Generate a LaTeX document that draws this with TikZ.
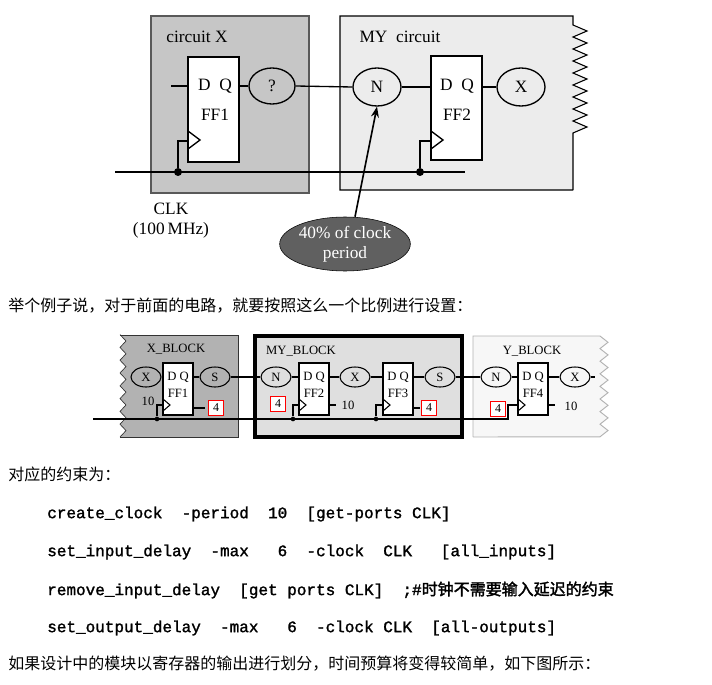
\documentclass[tikz,border=0pt]{standalone}
\usepackage{fontspec}
\setmainfont{Liberation Serif}
\newfontfamily\cjk{Noto Sans CJK SC}
\newfontfamily\cjkb[FakeBold=2]{Noto Sans CJK SC}
\newfontfamily\mono[FakeBold=1.5]{Liberation Mono}
\usetikzlibrary{shapes.geometric,arrows.meta}
\begin{document}
\begin{tikzpicture}[x=0.75pt,y=-0.75pt,
  ff/.style={draw,line width=1pt,fill=white},
  bub/.style={draw,ellipse,line width=1pt,inner sep=0pt},
  wire/.style={line width=1pt},
  dot/.style={circle,fill=black,inner sep=0pt,minimum size=6pt},
  sdot/.style={circle,fill=black,inner sep=0pt,minimum size=3.5pt},
  red4/.style={draw=red,line width=1pt,fill=white,minimum size=11pt,inner sep=1pt,font=\fontsize{9}{10}\selectfont},
  lab/.style={font=\fontsize{13}{15}\selectfont},
  slab/.style={font=\fontsize{9.5}{11}\selectfont},
  zh/.style={anchor=west,font=\cjk\fontsize{12}{14}\selectfont,inner sep=0pt},
  code/.style={anchor=west,font=\mono\fontsize{12}{14}\selectfont,inner sep=0pt}]
\useasboundingbox (0,0) rectangle (712,684);
% ---------- top diagram
\fill[gray!45] (151,16) rectangle (309,193);
\draw[gray!70!black,line width=0.8pt] (151,16) rectangle (309,193);
\fill[gray!15] (340,16) -- (573,16) -- (573,25) \foreach \i in {0,...,8}{ -- ++(14,6) -- ++(-14,6)} -- (573,190) -- (340,190) -- cycle;
\draw[line width=0.8pt] (573,190) -- (340,190) -- (340,16) -- (573,16) -- (573,25) \foreach \i in {0,...,8}{ -- ++(14,6) -- ++(-14,6)} -- (573,190);
\node[lab] (lx) at (197,37) {circuit X};
\node[lab] (lmy) at (400,37) {MY\ \ circuit};
\node[ff,minimum width=51pt*0.75,minimum height=105pt*0.75,inner sep=0pt] (ff1) at (213.5,109.5) {};
\node[lab] at (215,86) {D\ \ Q};
\node[lab] at (215,115) {FF1};
\draw[line width=1pt] (188,131) -- (200,140) -- (188,149);
\node[ff,minimum width=51pt*0.75,minimum height=104pt*0.75,inner sep=0pt] (ff2) at (456.5,108) {};
\node[lab] at (457,86) {D\ \ Q};
\node[lab] at (457,115) {FF2};
\draw[line width=1pt] (431,131) -- (443,140) -- (431,149);
\node[bub,minimum width=46pt*0.75,minimum height=36pt*0.75,lab] (q) at (272,86) {?};
\node[bub,minimum width=48pt*0.75,minimum height=38pt*0.75,lab] (n) at (377,87) {N};
\node[bub,minimum width=48pt*0.75,minimum height=38pt*0.75,lab] (x) at (521,87) {X};
\coordinate (in1) at (171,86);
\draw[wire] (in1) -- (188,86);
\draw[wire] (239,86) -- (q.west);
\draw[wire] (q.east) -- (n.west);
\draw[wire] (n.east) -- (431,87);
\draw[wire] (482,87) -- (x.west);
\coordinate (ck0) at (115,172); \coordinate (ck1) at (465,172);
\draw[wire] (ck0) -- (ck1);
\node[dot] (d1) at (178,172) {}; \node[dot] (d2) at (420,172) {};
\draw[wire] (d1) |- (188,141);
\draw[wire] (d2) |- (431,141);
\node[lab,align=center] (clk) at (171,221) {CLK\\(100\,MHz)};
\node[ellipse,fill=gray!75!black,draw=black,minimum width=124pt*0.75,minimum height=54pt*0.75,inner sep=0pt,text=white,lab,align=center] (pct) at (345,244) {40\% of clock\\period};
\draw[line width=1.2pt,-{Stealth[length=8pt]}] (pct.north) ++(10,0) -- (n.south);
% ---------- sentence
\node[zh] (s1) at (8,306) {举个例子说，对于前面的电路，就要按照这么一个比例进行设置：};
% ---------- middle diagram
\fill[gray!60] (120,335) -- (238,335) -- (238,437) -- (120,437) \foreach \i in {0,...,7}{ -- ++(6,-6.4) -- ++(-6,-6.4)} -- cycle;
\draw[line width=0.5pt,gray!40!black] (120,335) -- (238,335) -- (238,437) -- (120,437);
\draw[line width=0.5pt,gray!40!black] (120,437) \foreach \i in {0,...,7}{ -- ++(6,-6.4) -- ++(-6,-6.4)};
\fill[gray!25] (255,336) rectangle (462,437);
\draw[line width=2.6pt] (255,336) rectangle (462,437);
\fill[gray!6] (473,336) -- (600,336) \foreach \i in {0,...,7}{ -- ++(8,6.3) -- ++(-8,6.3)} -- (473,437) -- cycle;
\draw[gray!60,line width=0.7pt] (473,437) -- (473,336) -- (600,336) \foreach \i in {0,...,7}{ -- ++(8,6.3) -- ++(-8,6.3)} -- (473,437);
\node[slab] at (176,349) {X\_BLOCK};
\node[slab] at (301,351) {MY\_BLOCK};
\node[slab] at (532,351) {Y\_BLOCK};
\foreach \nm/\xa/\lbl in {m1/163/FF1,m2/299/FF2,m3/383/FF3,m4/518/FF4}{
  \node[ff,line width=0.8pt,minimum width=30pt*0.75,minimum height=52pt*0.75,inner sep=0pt] (\nm) at (\xa+15,389) {};
  \node[slab] at (\xa+15,377) {D\ Q};
  \node[slab] at (\xa+15,393) {\lbl};
  \draw[line width=0.8pt] (\xa,399) -- (\xa+7,405) -- (\xa,411);
}
\foreach \nm/\xx/\lbl in {e1/146/X,e2/215/S,e3/276/N,e4/355/X,e5/440/S,e6/496/N,e7/575/X}{
  \node[bub,line width=0.8pt,minimum width=30pt*0.75,minimum height=20pt*0.75,slab] (\nm) at (\xx,377) {\lbl};
}
\draw[wire] (e1.east) -- (163,377);
\draw[wire] (193,377) -- (e2.west);
\draw[wire] (e2.east) -- (e3.west);
\draw[wire] (e3.east) -- (299,377);
\draw[wire] (329,377) -- (e4.west);
\draw[wire] (e4.east) -- (383,377);
\draw[wire] (413,377) -- (e5.west);
\draw[wire] (e5.east) -- (e6.west);
\draw[wire] (e6.east) -- (518,377);
\draw[wire] (548,377) -- (e7.west);
\coordinate (xo) at (595,377);
\draw[wire] (e7.east) -- (xo);
\draw[wire] (193,408) -- (205,408);
\draw[wire] (329,405) -- (336,405);
\draw[wire] (413,408) -- (420,408);
\draw[wire] (548,405) -- (555,405);
\node[red4] (r1) at (216,408) {4};
\node[red4] (r2) at (278,404) {4};
\node[red4] (r3) at (429,408) {4};
\node[red4] (r4) at (498,409) {4};
\node[slab] at (148,401) {10};
\node[slab] at (348,405) {10};
\node[slab] at (571,406) {10};
\coordinate (mc0) at (93,419);
\draw[wire] (mc0) -- (508,419) |- (518,405);
\node[sdot] (c1) at (157,419) {}; \node[sdot] (c2) at (293,419) {}; \node[sdot] (c3) at (376,419) {};
\draw[wire] (c1) |- (163,405);
\draw[wire] (c2) |- (299,405);
\draw[wire] (c3) |- (383,405);
% ---------- text
\node[zh] (s2) at (8,474) {对应的约束为：};
\node[code] (k1) at (47,514) {create\_clock\ \ -period\ \ 10\ \ [get-ports CLK]};
\node[code] (k2) at (47,552) {set\_input\_delay\ \ -max\ \ \ 6\ \ -clock\ \ CLK\ \ \ [all\_inputs]};
\node[code] (k3) at (47,590) {remove\_input\_delay\ \ [get ports CLK]\ \ ;\#{\cjkb 时钟不需要输入延迟的约束}};
\node[code] (k4) at (47,628) {set\_output\_delay\ \ -max\ \ \ 6\ \ -clock CLK\ \ [all-outputs]};
\node[zh] (s3) at (8,664) {如果设计中的模块以寄存器的输出进行划分，时间预算将变得较简单，如下图所示：};
\end{tikzpicture}
\end{document}
